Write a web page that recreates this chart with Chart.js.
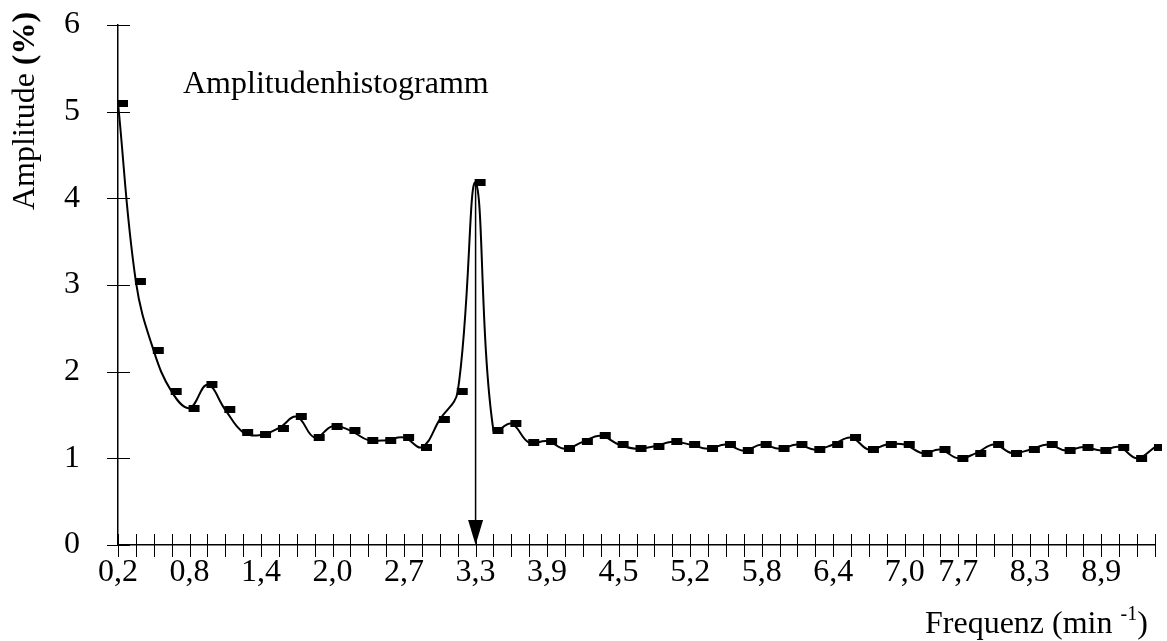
<!DOCTYPE html>
<html>
<head>
<meta charset="utf-8">
<script src="https://cdn.jsdelivr.net/npm/chart.js@4.4.1/dist/chart.umd.min.js"></script>
<style>
  html, body { margin: 0; padding: 0; background: #fff; }
  #wrap { width: 1167px; height: 641px; position: relative; }
</style>
</head>
<body>
<div id="wrap"><canvas id="ampChart" width="1167" height="641"></canvas></div>
<script>
// Amplitude (%) per frequency step
const amplitude = [
  5.10, 3.04, 2.24, 1.77, 1.58, 1.85, 1.56, 1.30, 1.27, 1.35,
  1.48, 1.24, 1.37, 1.32, 1.21, 1.21, 1.24, 1.13, 1.45, 1.77,
  4.18, 1.32, 1.40, 1.18, 1.20, 1.11, 1.19, 1.26, 1.16, 1.11,
  1.14, 1.19, 1.16, 1.11, 1.16, 1.09, 1.16, 1.11, 1.16, 1.10,
  1.16, 1.24, 1.10, 1.16, 1.16, 1.06, 1.10, 1.00, 1.06, 1.16,
  1.06, 1.10, 1.16, 1.09, 1.13, 1.09, 1.13, 1.00, 1.13
];

// tick labels of the frequency axis and the step where each one sits
const tickLabels = ['0,2', '0,8', '1,4', '2,0', '2,7', '3,3', '3,9', '4,5', '5,2', '5,8', '6,4', '7,0', '7,7', '8,3', '8,9'];
const tickLabelAt = [0, 4, 8, 12, 16, 20, 24, 28, 32, 36, 40, 44, 47, 51, 55];

const peakIndex = 20; // arrow marks this step (3,3)

const categories = amplitude.map((v, i) => {
    const k = tickLabelAt.indexOf(i);
    return k >= 0 ? tickLabels[k] : '';
});

const FONT = 'Liberation Serif';

// little black bar used as marker, sits a bit right of the point
function makeMarker() {
    const c = document.createElement('canvas');
    c.width = 22;
    c.height = 7;
    const g = c.getContext('2d');
    g.fillStyle = '#000';
    g.fillRect(10, 0, 11, 7);
    return c;
}

const axisDecor = {
    id: 'axisDecor',
    afterDraw(chart) {
        const ctx = chart.ctx;
        const xs = chart.scales.x;
        const ys = chart.scales.y;
        const area = chart.chartArea;
        ctx.save();

        // ticks crossing the axes
        ctx.strokeStyle = '#000';
        ctx.lineWidth = 1;
        ctx.beginPath();
        xs.ticks.forEach((t, i) => {
            const px = Math.round(xs.getPixelForTick(i)) + 0.5;
            ctx.moveTo(px, area.bottom - 11);
            ctx.lineTo(px, area.bottom + 12);
        });
        ys.ticks.forEach(t => {
            const py = Math.round(ys.getPixelForValue(t.value)) + 0.5;
            ctx.moveTo(area.left - 11, py);
            ctx.lineTo(area.left + 12, py);
        });
        ctx.stroke();

        // arrow from the peak down to the axis
        const ax = xs.getPixelForValue(peakIndex);
        const top = ys.getPixelForValue(amplitude[peakIndex]);
        const bottom = ys.getPixelForValue(0);
        ctx.lineWidth = 1.5;
        ctx.beginPath();
        ctx.moveTo(ax, top);
        ctx.lineTo(ax, bottom - 20);
        ctx.stroke();
        ctx.fillStyle = '#000';
        ctx.beginPath();
        ctx.moveTo(ax - 7.5, bottom - 25);
        ctx.lineTo(ax + 7.5, bottom - 25);
        ctx.lineTo(ax, bottom);
        ctx.closePath();
        ctx.fill();

        // chart title inside the plot
        ctx.fillStyle = '#000';
        ctx.textBaseline = 'alphabetic';
        ctx.textAlign = 'left';
        ctx.font = '32px "' + FONT + '"';
        ctx.fillText('Amplitudenhistogramm', area.left + 65, area.top + 68);

        // y axis title, "(%)" in bold
        ctx.save();
        ctx.translate(area.left - 84, area.top + 185);
        ctx.rotate(-Math.PI / 2);
        ctx.font = '32px "' + FONT + '"';
        const part1 = 'Amplitude ';
        ctx.fillText(part1, 0, 0);
        const w1 = ctx.measureText(part1).width;
        ctx.font = 'bold 32px "' + FONT + '"';
        ctx.fillText('(%)', w1, 0);
        ctx.restore();

        // x axis title with superscript
        let tx = area.left + 807;
        const ty = area.bottom + 88;
        ctx.font = '32px "' + FONT + '"';
        const s1 = 'Frequenz (min ';
        ctx.fillText(s1, tx, ty);
        tx += ctx.measureText(s1).width;
        ctx.font = '20px "' + FONT + '"';
        ctx.fillText('-1', tx, ty - 13);
        tx += ctx.measureText('-1').width;
        ctx.font = '32px "' + FONT + '"';
        ctx.fillText(')', tx, ty);

        ctx.restore();
    }
};

const ctx = document.getElementById('ampChart').getContext('2d');
new Chart(ctx, {
    type: 'line',
    data: {
        labels: categories,
        datasets: [{
            label: 'Amplitude',
            data: amplitude,
            borderColor: '#000',
            borderWidth: 2,
            tension: 0.4,
            fill: false,
            pointStyle: makeMarker(),
            pointRadius: 5,
            pointHoverRadius: 5
        }]
    },
    options: {
        responsive: false,
        animation: false,
        layout: { padding: { top: 25, right: 12, left: 0, bottom: 0 } },
        plugins: {
            legend: { display: false },
            tooltip: { enabled: false }
        },
        scales: {
            x: {
                type: 'category',
                offset: false,
                grid: { display: false },
                border: { display: true, color: '#000', width: 1.5 },
                ticks: {
                    autoSkip: false,
                    maxRotation: 0,
                    minRotation: 0,
                    padding: 0,
                    color: '#000',
                    font: { family: FONT, size: 32 }
                },
                afterFit(scale) {
                    scale.height = 96;
                    scale.paddingLeft = 0;
                    scale.paddingRight = 0;
                }
            },
            y: {
                min: 0,
                max: 6,
                grid: { display: false },
                border: { display: true, color: '#000', width: 1.5 },
                ticks: {
                    stepSize: 1,
                    padding: 30,
                    color: '#000',
                    font: { family: FONT, size: 32 }
                },
                afterFit(scale) {
                    scale.width = 118;
                    scale.paddingTop = 0;
                    scale.paddingBottom = 0;
                }
            }
        }
    },
    plugins: [axisDecor]
});
</script>
</body>
</html>
